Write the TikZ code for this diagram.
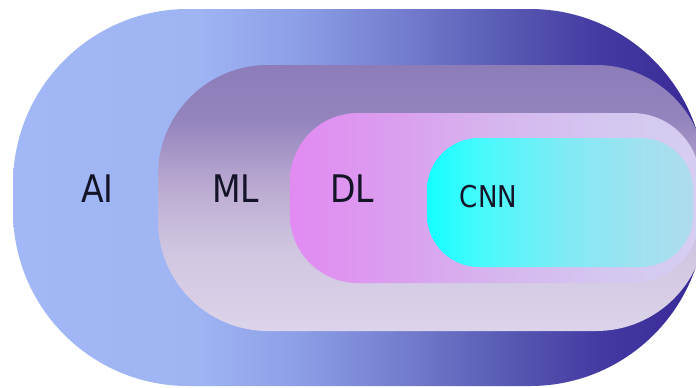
\documentclass[tikz,border=0pt]{standalone}
\usepackage{fontspec}
\newfontfamily\labfont[FakeStretch=0.87]{DejaVu Sans}
\definecolor{aiA}{RGB}{162,184,246}
\definecolor{aiB}{RGB}{158,180,243}
\definecolor{aiC}{RGB}{140,158,230}
\definecolor{aiD}{RGB}{116,126,206}
\definecolor{aiE}{RGB}{90,93,181}
\definecolor{aiF}{RGB}{68,58,162}
\definecolor{aiG}{RGB}{55,40,150}
\definecolor{mlA}{RGB}{140,124,184}
\definecolor{mlB}{RGB}{148,132,190}
\definecolor{mlC}{RGB}{188,172,210}
\definecolor{mlD}{RGB}{208,198,225}
\definecolor{mlE}{RGB}{220,212,234}
\definecolor{dlA}{RGB}{226,138,242}
\definecolor{dlB}{RGB}{218,160,238}
\definecolor{dlC}{RGB}{214,182,238}
\definecolor{dlD}{RGB}{212,198,240}
\definecolor{dlE}{RGB}{214,206,240}
\definecolor{cnA}{RGB}{20,255,255}
\definecolor{cnB}{RGB}{70,250,252}
\definecolor{cnC}{RGB}{125,235,245}
\definecolor{cnD}{RGB}{160,225,240}
\definecolor{cnE}{RGB}{175,220,236}
\definecolor{txt}{RGB}{20,20,40}
\pgfdeclarehorizontalshading{aishade}{100bp}{color(0bp)=(aiA); color(25bp)=(aiA); color(38.5bp)=(aiB); color(45.7bp)=(aiC); color(53bp)=(aiD); color(60bp)=(aiE); color(67.4bp)=(aiF); color(75bp)=(aiG); color(100bp)=(aiG)}
\pgfdeclareverticalshading{mlshade}{100bp}{color(0bp)=(mlE); color(25bp)=(mlE); color(40bp)=(mlD); color(51.5bp)=(mlC); color(64.7bp)=(mlB); color(75bp)=(mlA); color(100bp)=(mlA)}
\pgfdeclarehorizontalshading{dlshade}{100bp}{color(0bp)=(dlA); color(25bp)=(dlA); color(38.4bp)=(dlB); color(50.6bp)=(dlC); color(62.8bp)=(dlD); color(75bp)=(dlE); color(100bp)=(dlE)}
\pgfdeclarehorizontalshading{cnshade}{100bp}{color(0bp)=(cnA); color(25bp)=(cnA); color(35bp)=(cnB); color(50bp)=(cnC); color(65bp)=(cnD); color(75bp)=(cnE); color(100bp)=(cnE)}
\tikzset{
  lab/.style={font=\labfont, text=txt, inner sep=0pt, anchor=base},
  big/.style={lab, font=\labfont\fontsize{38}{40}\selectfont},
  small/.style={lab, font=\labfont\fontsize{30}{32}\selectfont}
}
\begin{document}
\begin{tikzpicture}[x=1pt,y=-1pt]
\useasboundingbox (0,0) rectangle (696,388);
\clip (0,0) rectangle (696,388);
\shade[shading=aishade, rounded corners=175pt] (13,9) rectangle (705,386);
\shade[shading=mlshade, rounded corners=110pt] (158,65) rectangle (706,331);
\shade[shading=dlshade, rounded corners=68pt] (290,113) rectangle (700,283);
\shade[shading=cnshade, rounded corners=52pt] (427,138) rectangle (693,267);
\node[big] (ai) at (97.5,202) {AI};
\node[big] (ml) at (235.5,202) {ML};
\node[big] (dl) at (352,202) {DL};
\node[small] (cnn) at (488.5,207) {CNN};
\end{tikzpicture}
\end{document}
